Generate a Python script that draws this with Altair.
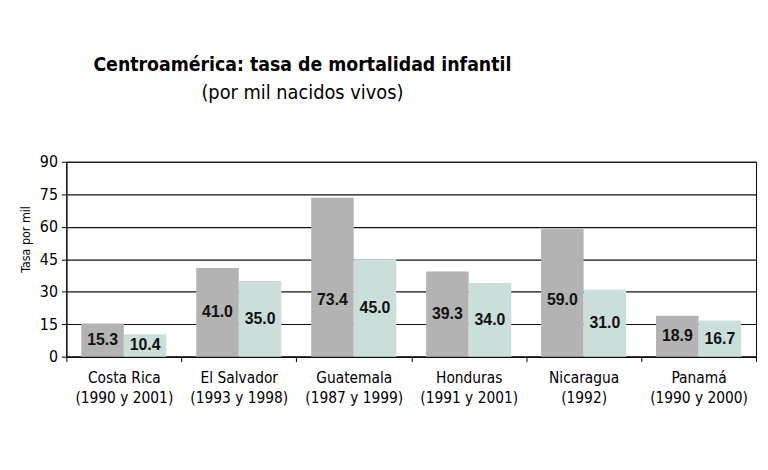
import altair as alt
import pandas as pd

countries = ["Costa Rica", "El Salvador", "Guatemala", "Honduras", "Nicaragua", "Panamá"]
periods = ["(1990 y 2001)", "(1993 y 1998)", "(1987 y 1999)", "(1991 y 2001)", "(1992)", "(1990 y 2000)"]
first_year = [15.3, 41.0, 73.4, 39.3, 59.0, 18.9]
second_year = [10.4, 35.0, 45.0, 34.0, 31.0, 16.7]
y_ticks = [0, 15, 30, 45, 60, 75, 90]

rows = []
for c, p, a, b in zip(countries, periods, first_year, second_year):
    cat = c + "|" + p
    rows.append({"cat": cat, "serie": "a", "valor": a})
    rows.append({"cat": cat, "serie": "b", "valor": b})
df = pd.DataFrame(rows)
cat_order = [c + "|" + p for c, p in zip(countries, periods)]

narrow = "Liberation Sans Narrow, DejaVu Sans Condensed, Arial Narrow, sans-serif"

x_axis = alt.Axis(labelExpr="split(datum.label, '|')", labelAngle=0,
                  labelFont=narrow, labelFontSize=15.5, labelColor="#000",
                  labelLineHeight=20, labelPadding=9,
                  tickBand="extent", tickSize=5, tickColor="#000",
                  domainColor="#000", grid=False)
x_scale = alt.Scale(paddingInner=0, paddingOuter=0)
y_axis = alt.Axis(values=y_ticks, title="Tasa por mil", titleFont=narrow,
                  titleFontSize=12.5, titleFontWeight="normal", titleColor="#000",
                  titleX=-34, titleY=78,
                  labelFont=narrow, labelFontSize=16, labelColor="#000",
                  labelPadding=4, tickSize=5, tickColor="#000",
                  domainColor="#000", gridColor="#111", gridWidth=1.2)
y_scale = alt.Scale(domain=[0, 90])
xoff = alt.XOffset("serie:N", scale=alt.Scale(paddingOuter=0.35, paddingInner=0))

bars = alt.Chart(df).mark_bar(size=43).encode(
    x=alt.X("cat:N", sort=cat_order, title=None, scale=x_scale, axis=x_axis),
    xOffset=xoff,
    y=alt.Y("valor:Q", scale=y_scale, axis=y_axis),
    color=alt.Color("serie:N", legend=None,
                    scale=alt.Scale(domain=["a", "b"], range=["#b3b3b3", "#cadfd9"])),
)

labels = alt.Chart(df).transform_calculate(
    ypos="min(datum.valor / 2, 26)",
    txt="format(datum.valor, '.1f')",
).mark_text(font="Liberation Sans", fontWeight="bold", fontSize=16,
            color="#111", baseline="middle").encode(
    x=alt.X("cat:N", sort=cat_order, title=None, scale=x_scale, axis=x_axis),
    xOffset=xoff,
    y=alt.Y("ypos:Q", scale=y_scale, axis=y_axis),
    text="txt:N",
)

chart = alt.layer(bars, labels).properties(
    width=697, height=197,
    padding={"left": 59, "top": 153, "right": 4, "bottom": 100},
    autosize=alt.AutoSizeParams(type="none"),
    background="white",
    title=alt.TitleParams(
        text="Centroamérica: tasa de mortalidad infantil",
        subtitle="(por mil nacidos vivos)",
        font=narrow, fontSize=19.5, fontWeight="bold", color="#000",
        subtitleFont=narrow, subtitleFontSize=20, subtitleColor="#000",
        subtitleFontWeight="normal", subtitlePadding=8,
        anchor="middle", frame="group", dx=-110, offset=50,
    ),
).configure_view(stroke="#000", strokeWidth=1)

chart.save("out.html", embed_options={"renderer": "svg", "actions": False})
